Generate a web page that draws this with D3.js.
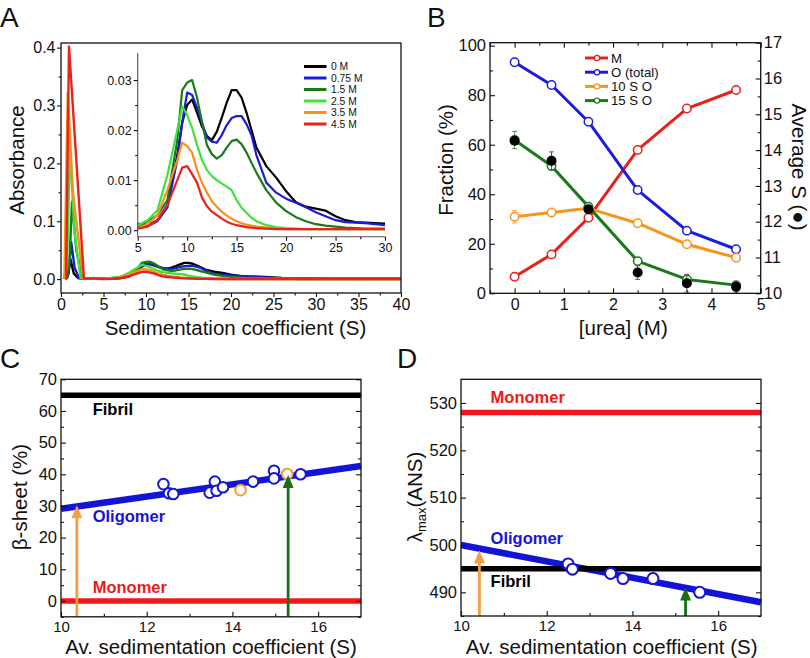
<!DOCTYPE html>
<html><head><meta charset="utf-8">
<script src="https://cdn.jsdelivr.net/npm/d3@7"></script>
<style>
body{margin:0;background:#fff;}
svg{font-family:"Liberation Sans", Arial, sans-serif;}
</style></head><body>
<svg id="c" width="810" height="658"></svg>
<script>
// ================= DATA =================
// Panel A
const ureaLabels = ["0 M","0.75 M","1.5 M","2.5 M","3.5 M","4.5 M"];
const absColors  = ["#000000","#1c1cd8","#1a7a1a","#3ee23e","#f7901e","#e8221c"];
const insetS = [5,6,7,8,9,9.5,10,10.5,11,11.5,12,12.5,13,13.5,14,14.5,15,15.5,16,16.5,17,18,19,20,21,22,23,24,25,26,27,28,29,30];
const abs0M   = [.0012,.0010,.0020,.0050,.0150,.0215,.0250,.0261,.0235,.0207,.0188,.0180,.0197,.0225,.0255,.0280,.0280,.0265,.0235,.0200,.0165,.0128,.0105,.0078,.0056,.0047,.0043,.0039,.0028,.0020,.0016,.0015,.0014,.0013];
const abs075M = [.0013,.0008,.0018,.0045,.0140,.0215,.0275,.0270,.0245,.0215,.0185,.0177,.0175,.0190,.0210,.0224,.0228,.0228,.0212,.0190,.0150,.0095,.0075,.0063,.0055,.0046,.0036,.0028,.0020,.0016,.0015,.0014,.0012,.0010];
const abs15M  = [.0006,.0018,.0030,.0060,.0180,.0280,.0295,.0300,.0265,.0215,.0170,.0152,.0143,.0150,.0165,.0178,.0181,.0172,.0155,.0135,.0115,.0080,.0055,.0038,.0026,.0018,.0012,.0009,.0007,.0005,.0004,.0003,.0003,.0003];
const abs25M  = [.0010,.0020,.0040,.0110,.0200,.0247,.0230,.0205,.0170,.0140,.0120,.0108,.0100,.0093,.0087,.0080,.0060,.0045,.0035,.0025,.0018,.0010,.0006,.0004,.0003,.0002,.0002,.0002,.0002,.0002,.0002,.0002,.0002,.0002];
const abs35M  = [.0005,.0012,.0030,.0080,.0140,.0175,.0168,.0155,.0120,.0095,.0075,.0058,.0047,.0037,.0029,.0023,.0018,.0014,.0011,.0009,.0007,.0005,.0003,.0002,.0002,.0002,.0002,.0002,.0002,.0002,.0002,.0002,.0002,.0002];
const abs45M  = [.0003,.0007,.0020,.0050,.0100,.0125,.0128,.0112,.0095,.0065,.0048,.0037,.0030,.0023,.0017,.0013,.0010,.0008,.0006,.0005,.0004,.0003,.0002,.0002,.0002,.0002,.0002,.0002,.0002,.0002,.0002,.0002,.0002,.0002];
// monomer spike region (S, absorbance) below 5 S
const spike0M   = [[0.5,0],[0.8,0.005],[1.1,0.035],[1.5,0.010],[2.0,0.002],[2.7,0.001],[4,0.001]];
const spike075M = [[0.6,0],[0.9,0.010],[1.2,0.064],[1.6,0.020],[2.1,0.002],[2.7,0.001],[4,0.001]];
const spike15M  = [[0.7,0],[1.0,0.030],[1.3,0.134],[1.8,0.050],[2.5,0.002],[4,0.001]];
const spike25M  = [[0.3,0],[0.7,0.020],[1.05,0.225],[1.6,0.080],[2.3,0.002],[4,0.001]];
const spike35M  = [[0.4,0],[0.8,0.323],[1.4,0.150],[2.6,0.001],[4,0.001]];
const spike45M  = [[0.6,0],[0.94,0.402],[2.7,0.001],[4,0.001]];
const tailS = [35,40];
const tail0M = [0.0009,0.0006], tail075M = [0.0008,0.0005], tailLow = [0.0002,0.0002];

// Panel B
const urea    = [0,0.75,1.5,2.5,3.5,4.5];
const fracM   = [6.7,15.7,30.5,57.9,74.6,82.1];
const fracO   = [93.3,84.1,69.3,41.7,25.3,17.8];
const frac10S = [30.9,32.6,34.3,28.3,19.8,14.4];
const frac15S = [61.9,51.4,35.0,13.0,5.6,3.3];
const errM    = [0.8,0.8,0.8,0.8,0.8,0.8];
const errO    = [0.8,0.8,0.8,0.8,0.8,0.8];
const err10S  = [2.5,1.5,1.0,0.8,1.2,0.8];
const err15S  = [3.5,1.5,1.0,1.0,1.2,1.0];
const avgS    = [14.26,13.70,12.35,10.58,10.28,10.18];
const avgSerr = [0.10,0.25,0.06,0.19,0.25,0.15];
const bLegend = ["M","O (total)","10 S O","15 S O"];
const bColors = ["#e8201a","#1c1ce0","#f7941d","#1a7a1a"];

// Panel C
const cS       = [12.39,12.52,12.62,13.47,13.59,13.63,13.78,14.48,14.97,14.97,15.59];
const cBeta    = [36.9,34.0,33.8,34.2,37.7,34.8,35.9,37.7,41.1,38.7,40.0];
const cOrangeS = [14.19,15.28];
const cOrangeB = [35.0,40.1];
const cFitS = [10,17], cFitB = [29.1,42.6];
const cFibril = 65, cMonomer = 0;
const cArrowS = [10.37,15.30], cArrowTop = [30.2,39.8];

// Panel D
const dS   = [12.50,12.60,13.49,13.78,14.48,15.57];
const dLam = [496.0,494.9,494.0,492.9,492.9,490.0];
const dFitS = [10,17], dFitL = [500.0,487.9];
const dMonomer = 528, dFibril = 495;
const dArrowS = [10.43,15.24], dArrowTop = [498.9,491.0];

const arrowColors = ["#f4a040","#1a6e1a"];

// ================= DRAWING =================
const FONT = '"Liberation Sans", Arial, sans-serif';
const svg = d3.select("#c");
const INK = "#111";

function axis(g, gen, scale, vals, size, fmt, fs, pad) {
  const a = gen(scale).tickValues(vals).tickSize(size).tickPadding(pad).tickFormat(fmt);
  const s = g.append("g").call(a);
  s.attr("font-family", FONT).attr("font-size", fs);
  s.select(".domain").remove();
  s.selectAll("line").attr("stroke", INK).attr("stroke-width", 1.1);
  s.selectAll("text").attr("fill", INK);
  return s;
}
function frame(x, y, col) {
  svg.append("rect").attr("x", x.range()[0]).attr("y", y.range()[1])
    .attr("width", x.range()[1]-x.range()[0]).attr("height", y.range()[0]-y.range()[1])
    .attr("fill","none").attr("stroke", col||INK).attr("stroke-width",1.3);
}
function text(x, y, t, fs, opts) {
  const e = svg.append("text").attr("x", x).attr("y", y).text(t).attr("font-size", fs).attr("fill", (opts&&opts.fill)||INK);
  if (opts && opts.anchor) e.attr("text-anchor", opts.anchor);
  if (opts && opts.weight) e.attr("font-weight", opts.weight);
  if (opts && opts.rot) e.attr("transform", `rotate(${opts.rot},${x},${y})`);
  return e;
}
const none = () => "";

// ---------- Panel A ----------
const aX = d3.scaleLinear().domain([0,40]).range([61,401]);
const aY = d3.scaleLinear().domain([-0.024,0.408]).range([293,43]);
const insetVals = [abs0M,abs075M,abs15M,abs25M,abs35M,abs45M];
const spikes = [spike0M,spike075M,spike15M,spike25M,spike35M,spike45M];
const tails = [tail0M,tail075M,tailLow,tailLow,tailLow,tailLow];
const fullSeries = insetVals.map((v,k) =>
  spikes[k].concat(insetS.map((s,i)=>[s,v[i]])).concat(tailS.map((s,i)=>[s,tails[k][i]])));

svg.append("clipPath").attr("id","clipA").append("rect")
  .attr("x",aX.range()[0]).attr("y",aY.range()[1])
  .attr("width",aX.range()[1]-aX.range()[0]).attr("height",aY.range()[0]-aY.range()[1]);
const lineA = d3.line().x(d=>aX(d[0])).y(d=>aY(d[1]));
const gA = svg.append("g").attr("clip-path","url(#clipA)");
fullSeries.forEach((pts,k)=>{
  gA.append("path").attr("d", lineA(pts)).attr("fill","none")
    .attr("stroke", absColors[k]).attr("stroke-width",2.4).attr("stroke-linejoin","round");
});
frame(aX, aY);
{
  const gl = svg.append("g").attr("transform",`translate(${aX.range()[0]},0)`);
  axis(gl, d3.axisLeft, aY, d3.range(0,0.41,0.1), 4, d3.format(".1f"), 16, 1.5);
  axis(gl, d3.axisLeft, aY, d3.range(0.05,0.4,0.1), 2.5, none, 16, 1.5);
  const gb = svg.append("g").attr("transform",`translate(0,${aY.range()[0]})`);
  axis(gb, d3.axisBottom, aX, d3.range(0,41,5), 4, d3.format("d"), 16, 1.5);
  axis(gb, d3.axisBottom, aX, d3.range(2.5,40,5), 2.5, none, 16, 1.5);
}
// inset
const iX = d3.scaleLinear().domain([5,30]).range([137.7,385]);
const iY = d3.scaleLinear().domain([-0.0013,0.0354]).range([236.7,53]);
const lineI = d3.line().x(d=>iX(d[0])).y(d=>iY(d[1]));
insetVals.forEach((v,k)=>{
  svg.append("path").attr("d", lineI(insetS.map((s,i)=>[s,v[i]]))).attr("fill","none")
    .attr("stroke", absColors[k]).attr("stroke-width",2.2).attr("stroke-linejoin","round");
});
svg.append("line").attr("x1",iX.range()[0]).attr("x2",iX.range()[0]).attr("y1",iY.range()[0]).attr("y2",iY.range()[1]).attr("stroke","#555").attr("stroke-width",1.1);
svg.append("line").attr("x1",iX.range()[0]).attr("x2",iX.range()[1]).attr("y1",iY.range()[0]).attr("y2",iY.range()[0]).attr("stroke","#555").attr("stroke-width",1.1);
{
  const gl = svg.append("g").attr("transform",`translate(${iX.range()[0]},0)`);
  axis(gl, d3.axisLeft, iY, [0,0.01,0.02,0.03], 4, d3.format(".2f"), 12.5, 2);
  axis(gl, d3.axisLeft, iY, [0.005,0.015,0.025], 2.5, none, 12, 2);
  const gb = svg.append("g").attr("transform",`translate(0,${iY.range()[0]})`);
  axis(gb, d3.axisBottom, iX, d3.range(5,31,5), 4, d3.format("d"), 12.5, 2);
  axis(gb, d3.axisBottom, iX, d3.range(7.5,30,5), 2.5, none, 12, 2);
}
// inset legend
{
  const legY0 = 66.5, legDy = 11.5;
  ureaLabels.forEach((lab,k)=>{
    const y = legY0 + k*legDy;
    svg.append("line").attr("x1",304).attr("x2",326.5).attr("y1",y).attr("y2",y).attr("stroke",absColors[k]).attr("stroke-width",3);
    text(331, y+3.9, lab, 10.3);
  });
}
text(24,160,"Absorbance",20.5,{anchor:"middle",rot:-90});
text(235.5,334.5,"Sedimentation coefficient (S)",20.5,{anchor:"middle"});
text(0,27,"A",28);

// ---------- Panel B ----------
const bX = d3.scaleLinear().domain([-0.5,5]).range([490,760.7]);
const bY = d3.scaleLinear().domain([0,101.2]).range([293.3,42.7]);
const bY2 = d3.scaleLinear().domain([10,17]).range([293.3,42.7]);
frame(bX, bY);
{
  const gl = svg.append("g").attr("transform",`translate(${bX.range()[0]},0)`);
  axis(gl, d3.axisLeft, bY, d3.range(0,101,20), -5, d3.format("d"), 16.5, 4);
  axis(gl, d3.axisLeft, bY, d3.range(10,100,20), -3, none, 16.5, 4);
  const gr = svg.append("g").attr("transform",`translate(${bX.range()[1]},0)`);
  axis(gr, d3.axisRight, bY2, d3.range(10,17.1,1), -5, d3.format("d"), 16.5, 3);
  axis(gr, d3.axisRight, bY2, d3.range(10.5,17,1), -3, none, 16.5, 3);
  const gb = svg.append("g").attr("transform",`translate(0,${bY.range()[0]})`);
  axis(gb, d3.axisBottom, bX, d3.range(0,5.1,1), -5, d3.format("d"), 16, 5.5);
  axis(gb, d3.axisBottom, bX, d3.range(-0.5,5,1), -3, none, 16, 5.5);
  const gt = svg.append("g").attr("transform",`translate(0,${bY.range()[1]})`);
  axis(gt, d3.axisTop, bX, d3.range(0,5.1,1), -5, none, 16.5, 3);
  axis(gt, d3.axisTop, bX, d3.range(-0.5,5,1), -3, none, 16.5, 3);
}
const bSeries = [fracM, fracO, frac10S, frac15S];
const bErr = [errM, errO, err10S, err15S];
const lineB = d3.line().x((d,i)=>bX(urea[i])).y(d=>bY(d));
// error bars
bSeries.forEach((vals,k)=>{
  vals.forEach((v,i)=>{
    const e = bErr[k][i], x = bX(urea[i]);
    svg.append("line").attr("x1",x).attr("x2",x).attr("y1",bY(v-e)).attr("y2",bY(v+e)).attr("stroke",bColors[k]).attr("stroke-width",1).attr("opacity",0.8);
    [v-e,v+e].forEach(w=>svg.append("line").attr("x1",x-2.5).attr("x2",x+2.5).attr("y1",bY(w)).attr("y2",bY(w)).attr("stroke",bColors[k]).attr("stroke-width",1).attr("opacity",0.8));
  });
});
bSeries.forEach((vals,k)=>{
  svg.append("path").attr("d", lineB(vals)).attr("fill","none").attr("stroke",bColors[k]).attr("stroke-width",3).attr("stroke-linejoin","round");
});
bSeries.forEach((vals,k)=>{
  vals.forEach((v,i)=>{
    svg.append("circle").attr("cx",bX(urea[i])).attr("cy",bY(v)).attr("r",4.2).attr("fill","#fff").attr("stroke",bColors[k]).attr("stroke-width",1.5);
  });
});
avgS.forEach((v,i)=>{
  const x = bX(urea[i]), e = avgSerr[i];
  svg.append("line").attr("x1",x).attr("x2",x).attr("y1",bY2(v-e)).attr("y2",bY2(v+e)).attr("stroke","#555").attr("stroke-width",1);
  [v-e,v+e].forEach(w=>svg.append("line").attr("x1",x-2.5).attr("x2",x+2.5).attr("y1",bY2(w)).attr("y2",bY2(w)).attr("stroke","#555").attr("stroke-width",1));
  svg.append("circle").attr("cx",x).attr("cy",bY2(v)).attr("r",5).attr("fill","#000");
});
bLegend.forEach((lab,k)=>{
  const y = 58 + k*14.2;
  svg.append("line").attr("x1",585).attr("x2",608).attr("y1",y).attr("y2",y).attr("stroke",bColors[k]).attr("stroke-width",3);
  svg.append("circle").attr("cx",597).attr("cy",y).attr("r",2.6).attr("fill","#fff").attr("stroke",bColors[k]).attr("stroke-width",1.2);
  text(611, y+4.7, lab, 13.2);
});
text(453,160,"Fraction (%)",20.5,{anchor:"middle",rot:-90});
text(792,167,"Average S (\u25CF)",20.5,{anchor:"middle",rot:90});
text(623.3,334.5,"[urea] (M)",20.5,{anchor:"middle"});
text(427,27,"B",28);

// ---------- Panels C & D helpers ----------
function arrow(x, y, s, bottom, top, col) {
  const xs = x(s), yt = y(top), yb = y.range()[0];
  svg.append("line").attr("x1",xs).attr("x2",xs).attr("y1",yb).attr("y2",yt+10).attr("stroke",col).attr("stroke-width",2.8);
  svg.append("path").attr("d",`M${xs},${yt} L${xs-5.5},${yt+13} L${xs+5.5},${yt+13} Z`).attr("fill",col);
}
function hline(x, y, v, col, w) {
  svg.append("line").attr("x1",x.range()[0]).attr("x2",x.range()[1]).attr("y1",y(v)).attr("y2",y(v)).attr("stroke",col).attr("stroke-width",w);
}

// ---------- Panel C ----------
const cX = d3.scaleLinear().domain([10,17]).range([61,361]);
const cY = d3.scaleLinear().domain([-5,70]).range([616.8,379.3]);
hline(cX,cY,cFibril,"#000",5.5);
hline(cX,cY,cMonomer,"#f01818",5.5);
svg.append("line").attr("x1",cX(cFitS[0])).attr("x2",cX(cFitS[1])).attr("y1",cY(cFitB[0])).attr("y2",cY(cFitB[1])).attr("stroke","#1414d8").attr("stroke-width",6.5);
cS.forEach((s,i)=>svg.append("circle").attr("cx",cX(s)).attr("cy",cY(cBeta[i])).attr("r",5.3).attr("fill","#fff").attr("stroke","#1414d8").attr("stroke-width",2));
cOrangeS.forEach((s,i)=>svg.append("circle").attr("cx",cX(s)).attr("cy",cY(cOrangeB[i])).attr("r",5.3).attr("fill","#fff").attr("stroke","#f39a30").attr("stroke-width",2));
cArrowS.forEach((s,i)=>arrow(cX,cY,s,-5,cArrowTop[i],arrowColors[i]));
frame(cX,cY);
{
  const gl = svg.append("g").attr("transform",`translate(${cX.range()[0]},0)`);
  axis(gl, d3.axisLeft, cY, d3.range(0,71,10), -5, d3.format("d"), 16.5, 4);
  axis(gl, d3.axisLeft, cY, d3.range(-5,70,10), -3, none, 16.5, 4);
  const gr = svg.append("g").attr("transform",`translate(${cX.range()[1]},0)`);
  axis(gr, d3.axisRight, cY, d3.range(0,71,10), -5, none, 16.5, 3);
  axis(gr, d3.axisRight, cY, d3.range(-5,70,10), -3, none, 16.5, 3);
  const gb = svg.append("g").attr("transform",`translate(0,${cY.range()[0]})`);
  axis(gb, d3.axisBottom, cX, [10,12,14,16], -5, d3.format("d"), 15, 4.5);
  axis(gb, d3.axisBottom, cX, [11,13,15], -3, none, 15, 4.5);
}
text(cX(10.74),cY(58.7),"Fibril",16.5,{weight:"bold",fill:"#000"});
text(cX(10.74),cY(24.9),"Oligomer",16.5,{weight:"bold",fill:"#1414d8"});
text(cX(10.74),cY(2.5),"Monomer",16.5,{weight:"bold",fill:"#f01818"});
text(27,497,"\u03B2-sheet (%)",20.5,{anchor:"middle",rot:-90});
text(211,654,"Av. sedimentation coefficient (S)",20.5,{anchor:"middle"});
text(0,368,"C",28);

// ---------- Panel D ----------
const dX = d3.scaleLinear().domain([10,17]).range([461,761]);
const dY = d3.scaleLinear().domain([485,535]).range([616,379.3]);
hline(dX,dY,dMonomer,"#f01818",5.5);
svg.append("line").attr("x1",dX(dFitS[0])).attr("x2",dX(dFitS[1])).attr("y1",dY(dFitL[0])).attr("y2",dY(dFitL[1])).attr("stroke","#1414d8").attr("stroke-width",6.5);
hline(dX,dY,dFibril,"#000",5.5);
dS.forEach((s,i)=>svg.append("circle").attr("cx",dX(s)).attr("cy",dY(dLam[i])).attr("r",5.5).attr("fill","#fff").attr("stroke","#1414d8").attr("stroke-width",2));
dArrowS.forEach((s,i)=>arrow(dX,dY,s,485,dArrowTop[i],arrowColors[i]));
frame(dX,dY);
{
  const gl = svg.append("g").attr("transform",`translate(${dX.range()[0]},0)`);
  axis(gl, d3.axisLeft, dY, d3.range(490,531,10), -5, d3.format("d"), 16.5, 4);
  axis(gl, d3.axisLeft, dY, d3.range(485,535,10), -3, none, 16.5, 4);
  const gr = svg.append("g").attr("transform",`translate(${dX.range()[1]},0)`);
  axis(gr, d3.axisRight, dY, d3.range(490,531,10), -5, none, 16.5, 3);
  axis(gr, d3.axisRight, dY, d3.range(485,535,10), -3, none, 16.5, 3);
  const gb = svg.append("g").attr("transform",`translate(0,${dY.range()[0]})`);
  axis(gb, d3.axisBottom, dX, [10,12,14,16], -5, d3.format("d"), 15, 4.5);
  axis(gb, d3.axisBottom, dX, [11,13,15], -3, none, 15, 4.5);
}
text(dX(10.69),dY(530),"Monomer",16.5,{weight:"bold",fill:"#f01818"});
text(dX(10.69),dY(500.2),"Oligomer",16.5,{weight:"bold",fill:"#1414d8"});
text(dX(10.69),dY(491.1),"Fibril",16.5,{weight:"bold",fill:"#000"});
{
  const t = svg.append("text").attr("x",422).attr("y",497).attr("font-size",20.5).attr("fill",INK)
    .attr("text-anchor","middle").attr("transform","rotate(-90,422,497)");
  t.append("tspan").text("\u03BB");
  t.append("tspan").attr("font-size",13).attr("dy",4).text("max");
  t.append("tspan").attr("dy",-4).text("(ANS)");
}
text(611.7,654,"Av. sedimentation coefficient (S)",20.5,{anchor:"middle"});
text(397,368,"D",28);
</script></body></html>
